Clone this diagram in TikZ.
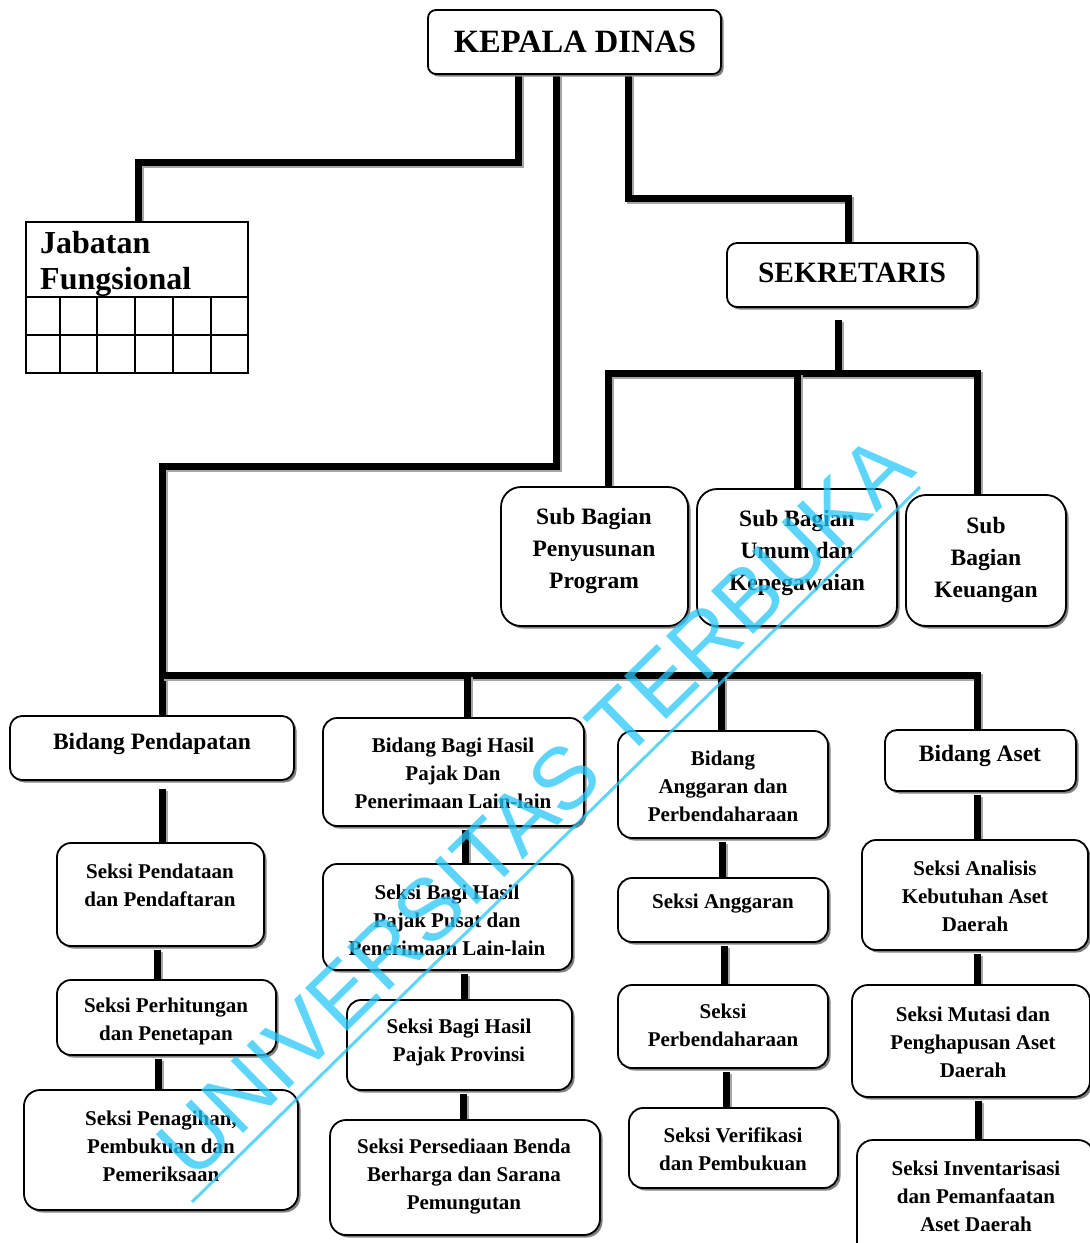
\documentclass[tikz,border=0pt]{standalone}
\usepackage{fontspec}
\setmainfont{Liberation Serif}
\newfontfamily\wmfont{Liberation Sans}
\usetikzlibrary{fit,shadows}
\pgfdeclarelayer{links}
\pgfsetlayers{links,main}
\definecolor{wmcyan}{RGB}{40,200,250}

\tikzset{
  box/.style={draw, line width=1.8pt, rounded corners=#1, fill=white, inner sep=0pt,
    drop shadow={shadow xshift=2.5pt, shadow yshift=-2.5pt, fill=black!50, opacity=1}},
  box/.default=14pt,
  txt/.style={align=center, inner sep=0pt, font=\bfseries\fontsize{21}{28}\selectfont},
  big/.style={font=\bfseries\fontsize{23.5}{32}\selectfont},
  link/.style={line width=7pt,
    preaction={draw=black!35, line width=7pt, transform canvas={shift={(2pt,-2pt)}}}},
  wm/.style={text=wmcyan, text opacity=0.75, inner sep=0pt,
    font=\wmfont\fontsize{87.5}{88}\selectfont},
}

% vertical link between two stacked boxes at a given x
\newcommand\vlink[4][3pt]{%
  \coordinate (vx) at (#4,0);
  \draw[link] ([yshift=-#1]#2.south -| vx) -- (#3.north -| vx);}

\begin{document}
\begin{tikzpicture}[x=1pt,y=-1pt]
\useasboundingbox (0,0) rectangle (1090,1243);
\clip (0,0) rectangle (1090,1243);

% ---- top level ----
\node[box=8pt, fit={(428,10) (721,74)}] (kd) {};
\node[txt, font=\bfseries\fontsize{32.5}{36}\selectfont] (kd-t) at (575,42) {KEPALA DINAS};

% functional positions table
\node[draw, line width=1.8pt, inner sep=0pt, fit={(26,222) (248,373)}] (jf) {};
\node[anchor=north west, align=left, inner sep=0pt,
      font=\bfseries\fontsize{32}{36}\selectfont] (jf-t) at (40,231) {Jabatan\\Fungsional};
\draw[line width=1.8pt] (26,297) -- (248,297) (26,335) -- (248,335);
\foreach \cx in {60,97,135,173,211} \draw[line width=1.8pt] (\cx,297) -- (\cx,373);

\node[box=10pt, fit={(727,243) (977,307)}] (sek) {};
\node[txt, font=\bfseries\fontsize{29.5}{32}\selectfont] (sek-t) at (852,273) {SEKRETARIS};

% ---- secretariat sub-divisions ----
\node[box=20pt, fit={(501,487) (688,626)}] (sbp) {};
\node[txt, big] (sbp-t) at (594,551) {Sub Bagian\\Penyusunan\\Program};
\node[box=20pt, fit={(697,489) (897,626)}] (sbu) {};
\node[txt, big] (sbu-t) at (797,553) {Sub Bagian\\Umum dan\\Kepegawaian};
\node[box=20pt, fit={(906,495) (1066,626)}] (sbk) {};
\node[txt, big] (sbk-t) at (986,560) {Sub\\Bagian\\Keuangan};

% ---- divisions ----
\node[box=12pt, fit={(10,716) (294,780)}] (bp) {};
\node[txt, big] (bp-t) at (152,744) {Bidang Pendapatan};
\node[box, fit={(323,718) (584,826)}] (bbh) {};
\node[txt] (bbh-t) at (453,773) {Bidang Bagi Hasil\\Pajak Dan\\Penerimaan Lain-lain};
\node[box, fit={(618,731) (828,838)}] (bag) {};
\node[txt] (bag-t) at (723,786) {Bidang\\Anggaran dan\\Perbendaharaan};
\node[box=12pt, fit={(885,730) (1076,791)}] (ba) {};
\node[txt, big] (ba-t) at (980,756) {Bidang Aset};

% ---- sections ----
\node[box, fit={(57,843) (264,946)}] (s11) {};
\node[txt] (s11-t) at (160,885) {Seksi Pendataan\\dan Pendaftaran};
\node[box, fit={(57,980) (276,1055)}] (s12) {};
\node[txt] (s12-t) at (166,1021) {Seksi Perhitungan\\dan Penetapan};
\node[box=16pt, fit={(24,1090) (298,1210)}] (s13) {};
\node[txt] (s13-t) at (161,1146) {Seksi Penagihan,\\Pembukuan dan\\Pemeriksaan};

\node[box, fit={(323,864) (572,970)}] (s21) {};
\node[txt] (s21-t) at (447,920) {Seksi Bagi Hasil\\Pajak Pusat dan\\Penerimaan Lain-lain};
\node[box, fit={(347,1000) (572,1090)}] (s22) {};
\node[txt] (s22-t) at (459,1042) {Seksi Bagi Hasil\\Pajak Provinsi};
\node[box=16pt, fit={(330,1120) (600,1235)}] (s23) {};
\node[txt] (s23-t) at (464,1177) {Seksi Persediaan Benda\\Berharga dan Sarana\\Pemungutan};

\node[box, fit={(618,878) (828,942)}] (s31) {};
\node[txt] (s31-t) at (723,904) {Seksi Anggaran};
\node[box, fit={(618,985) (828,1068)}] (s32) {};
\node[txt] (s32-t) at (723,1025) {Seksi\\Perbendaharaan};
\node[box, fit={(629,1108) (838,1188)}] (s33) {};
\node[txt] (s33-t) at (733,1149) {Seksi Verifikasi\\dan Pembukuan};

\node[box, fit={(862,840) (1088,950)}] (s41) {};
\node[txt] (s41-t) at (975,896) {Seksi Analisis\\Kebutuhan Aset\\Daerah};
\node[box=16pt, fit={(852,985) (1090,1097)}] (s42) {};
\node[txt] (s42-t) at (973,1042) {Seksi Mutasi dan\\Penghapusan Aset\\Daerah};
\node[box=16pt, fit={(857,1140) (1094,1262)}] (s43) {};
\node[txt] (s43-t) at (976,1196) {Seksi Inventarisasi\\dan Pemanfaatan\\Aset Daerah};

% ---- connecting lines ----
\begin{pgfonlayer}{links}
  \coordinate (k1) at (518,162);  \coordinate (k1b) at (138,162);
  \draw[link] (kd.south -| k1) |- (k1b) -- (jf.north -| k1b);
  \coordinate (k2) at (556,466);  \coordinate (k2b) at (162,466);
  \draw[link] (kd.south -| k2) |- (k2b) -- (bp.north -| k2b);
  \coordinate (k3) at (628,198);  \coordinate (k3b) at (848,198);
  \draw[link] (kd.south -| k3) |- (k3b) -- (sek.north -| k3b);

  \coordinate (sb) at (838,373);  \coordinate (sbl) at (608,373);
  \coordinate (sbm) at (797,373); \coordinate (sbr) at (977,373);
  \draw[link] ([yshift=-12pt]sek.south -| sb) -- (sb);
  \draw[link] (sbp.north -| sbl) |- (sbr) -- (sbk.north -| sbr);
  \draw[link] (sbm) -- (sbu.north -| sbm);

  \coordinate (bb) at (977,675);  \coordinate (bb2) at (467,675);
  \coordinate (bb3) at (721,675);
  \draw[link] (bb -| k2b) -- (bb) -- (ba.north -| bb);
  \draw[link] (bb2) -- (bbh.north -| bb2);
  \draw[link] (bb3) -- (bag.north -| bb3);

  \vlink[8pt]{bp}{s11}{162}
  \vlink{s11}{s12}{157}
  \vlink{s12}{s13}{158}
  \vlink{bbh}{s21}{465}
  \vlink{s21}{s22}{464}
  \vlink{s22}{s23}{463}
  \vlink{bag}{s31}{722}
  \vlink{s31}{s32}{724}
  \vlink{s32}{s33}{726}
  \vlink{ba}{s41}{977}
  \vlink{s41}{s42}{977}
  \vlink{s42}{s43}{978}
\end{pgfonlayer}

% ---- watermark ----
\node[wm, rotate=44.4, anchor=base] (wm) at (556,828) {UNIVERSITAS TERBUKA};
\draw[wmcyan, line width=3pt, draw opacity=0.75] (192,1202) -- (920,487);
\end{tikzpicture}
\end{document}
